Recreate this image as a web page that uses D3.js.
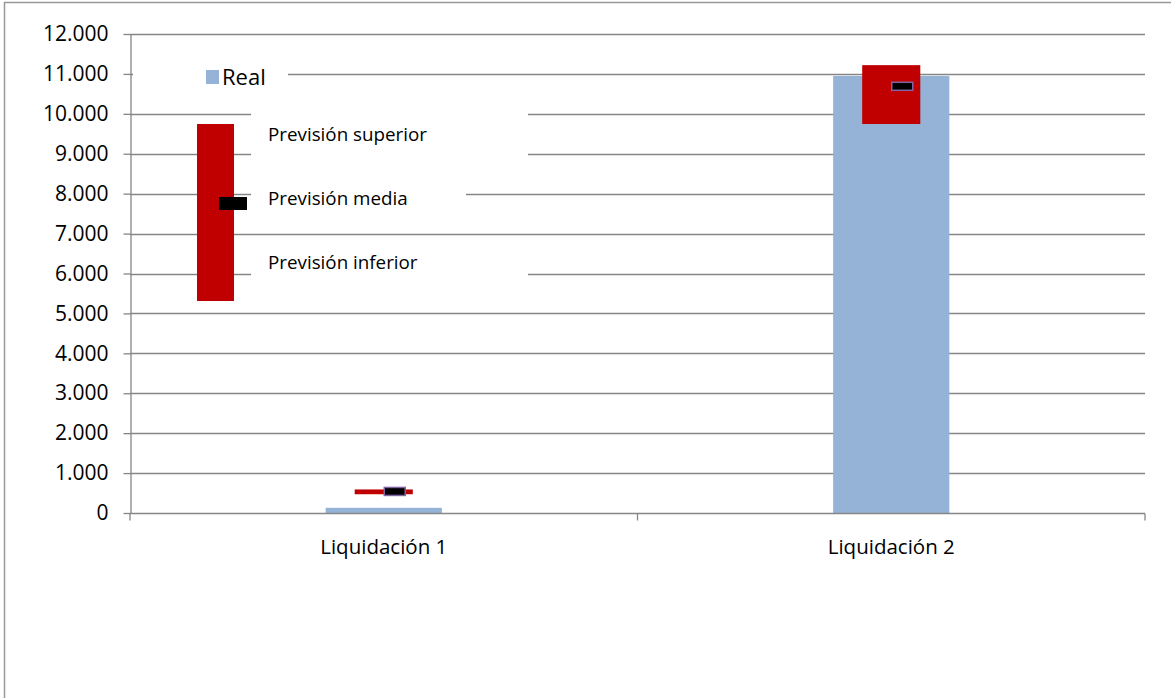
<!DOCTYPE html>
<html><head><meta charset="utf-8">
<script src="https://cdn.jsdelivr.net/npm/d3@7"></script>
<style>body{margin:0;background:#fff}svg{display:block;font-family:"Open Sans",sans-serif}</style>
</head><body>
<script>
const categories = ["Liquidación 1", "Liquidación 2"];
const real = [130, 10950];
const prevSup = [590, 11220];
const prevMed = [540, 10690];
const prevInf = [470, 9745];
const yTicks = [0,1000,2000,3000,4000,5000,6000,7000,8000,9000,10000,11000,12000];
const legendLabels = ["Real", "Previsión superior", "Previsión media", "Previsión inferior"];

const W = 1171, H = 698;
const svg = d3.select("body").append("svg").attr("width", W).attr("height", H);
const grey = "#868686";

// outer frame
svg.append("rect").attr("x",4.5).attr("y",2.5).attr("width",W+10).attr("height",H+10)
  .attr("fill","#fff").attr("stroke","#999").attr("stroke-width",1.5);

const y = d3.scaleLinear().domain([0,12000]).range([513,34]);
const x = d3.scaleBand().domain(categories).range([130,1145]).padding(0);
const barW = x.bandwidth()*0.229;
const fcW = barW/2;

// gridlines
svg.append("g").selectAll("line").data(yTicks.filter(d=>d>0)).join("line")
  .attr("x1",130).attr("x2",1145).attr("y1",d=>Math.round(y(d))+0.5).attr("y2",d=>Math.round(y(d))+0.5)
  .attr("stroke",grey).attr("stroke-width",1.3);

// legend background boxes (hide gridlines behind legend texts)
const lgBg = svg.append("g");
lgBg.append("rect").attr("x",133).attr("y",62).attr("width",155).attr("height",24).attr("fill","#fff");
lgBg.append("rect").attr("x",251).attr("y",100).attr("width",277).attr("height",62).attr("fill","#fff");
lgBg.append("rect").attr("x",251).attr("y",178).attr("width",215).attr("height",38).attr("fill","#fff");
lgBg.append("rect").attr("x",251).attr("y",246).attr("width",277).attr("height",36).attr("fill","#fff");

// real bars
svg.append("g").selectAll("rect").data(categories).join("rect")
  .attr("x",(d)=>x(d)+x.bandwidth()/2-barW/2).attr("width",barW)
  .attr("y",(d,i)=>y(real[i])).attr("height",(d,i)=>y(0)-y(real[i]))
  .attr("fill","#95b3d7");

// forecast range
svg.append("g").selectAll("rect").data(categories).join("rect")
  .attr("x",(d)=>x(d)+x.bandwidth()/2-fcW/2).attr("width",fcW)
  .attr("y",(d,i)=>y(prevSup[i])).attr("height",(d,i)=>y(prevInf[i])-y(prevSup[i]))
  .attr("fill","#c00000");

// forecast mean markers
svg.append("g").selectAll("rect").data(categories).join("rect")
  .attr("x",(d)=>x(d)+x.bandwidth()/2+0.5).attr("width",21)
  .attr("y",(d,i)=>y(prevMed[i])-4).attr("height",8)
  .attr("fill","#000").attr("stroke","#8064a2").attr("stroke-width",1.5);

// axes
const yAxis = d3.axisLeft(y).tickValues(yTicks).tickSize(7).tickSizeOuter(0)
  .tickFormat(d=>d3.format(",")(d).replace(/,/g,"."));
const gy = svg.append("g").attr("transform","translate(130.5,0)").call(yAxis);
gy.select(".domain").attr("stroke",grey).attr("stroke-width",1.3);
gy.selectAll(".tick line").attr("stroke",grey).attr("stroke-width",1.3);
gy.selectAll(".tick text").attr("x",-22).attr("font-size",21).attr("fill","#000").attr("font-family","Open Sans");

const gx = svg.append("g").attr("transform","translate(0,513.5)");
gx.append("line").attr("x1",130).attr("x2",1145).attr("stroke",grey).attr("stroke-width",1.3);
gx.selectAll("line.t").data([130,637.5,1145]).join("line").attr("class","t")
  .attr("x1",d=>d).attr("x2",d=>d).attr("y1",0).attr("y2",7).attr("stroke",grey).attr("stroke-width",1.3);
gx.selectAll("text").data(categories).join("text")
  .attr("x",d=>x(d)+x.bandwidth()/2).attr("y",40).attr("text-anchor","middle")
  .attr("font-size",20.5).attr("fill","#000").text(d=>d);

// legend
const lg = svg.append("g");
lg.append("rect").attr("x",206).attr("y",70).attr("width",13).attr("height",14).attr("fill","#95b3d7");
lg.append("text").attr("x",222).attr("y",85).attr("font-size",22).text(legendLabels[0]);
lg.append("rect").attr("x",197).attr("y",124).attr("width",37).attr("height",177).attr("fill","#c00000");
lg.append("rect").attr("x",219).attr("y",197).attr("width",28).attr("height",13).attr("fill","#000");
lg.append("text").attr("x",268).attr("y",141).attr("font-size",18.8).text(legendLabels[1]);
lg.append("text").attr("x",268).attr("y",205).attr("font-size",18.8).text(legendLabels[2]);
lg.append("text").attr("x",268).attr("y",269).attr("font-size",18.8).text(legendLabels[3]);
</script>
</body></html>
